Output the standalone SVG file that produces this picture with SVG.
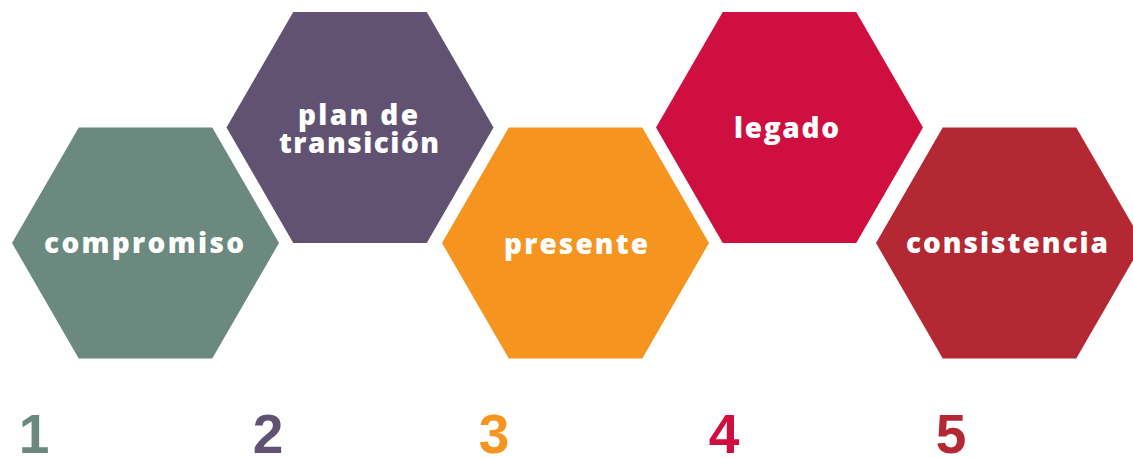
<svg xmlns="http://www.w3.org/2000/svg" xmlns:xlink="http://www.w3.org/1999/xlink" width="1133" height="458" viewBox="0 0 1133 458">
<style>
.lbl{font-family:"Open Sans","Liberation Sans",Arial,sans-serif;font-weight:800;font-size:28px;fill:#ffffff;text-anchor:middle}
.num{font-family:"Liberation Sans",Arial,sans-serif;font-weight:bold;font-size:55px;text-anchor:middle}
</style>
<defs>
<polygon id="hex" points="-133.5,0 -66.75,-115.5 66.75,-115.5 133.5,0 66.75,115.5 -66.75,115.5"/>
</defs>
<rect width="1133" height="458" fill="#ffffff"/>
<g id="connectors"></g>
<g id="node1">
<use xlink:href="#hex" href="#hex" transform="translate(145.5,243)" fill="#6b897f"/>
<text class="lbl" x="144" y="253" textLength="200" lengthAdjust="spacing">compromiso</text>
<text class="num" x="34" y="453" fill="#6b897f">1</text>
</g>
<g id="node2">
<use xlink:href="#hex" href="#hex" transform="translate(360,127.5)" fill="#615272"/>
<text class="lbl" x="358" y="125" textLength="120" lengthAdjust="spacing">plan de</text>
<text class="lbl" x="359" y="153" textLength="160" lengthAdjust="spacing">transición</text>
<text class="num" x="268" y="453" fill="#615272">2</text>
</g>
<g id="node3">
<use xlink:href="#hex" href="#hex" transform="translate(575.5,243)" fill="#f5941f"/>
<text class="lbl" x="576" y="254" textLength="144" lengthAdjust="spacing">presente</text>
<text class="num" x="494" y="453" fill="#f5941f">3</text>
</g>
<g id="node4">
<use xlink:href="#hex" href="#hex" transform="translate(789.5,127.5)" fill="#cf0f40"/>
<text class="lbl" x="786.5" y="138" textLength="105" lengthAdjust="spacing">legado</text>
<text class="num" x="724" y="453" fill="#cf0f40">4</text>
</g>
<g id="node5">
<use xlink:href="#hex" href="#hex" transform="translate(1009.5,243)" fill="#b32833"/>
<text class="lbl" x="1007" y="253" textLength="202" lengthAdjust="spacing">consistencia</text>
<text class="num" x="951" y="453" fill="#b32833">5</text>
</g>
</svg>
